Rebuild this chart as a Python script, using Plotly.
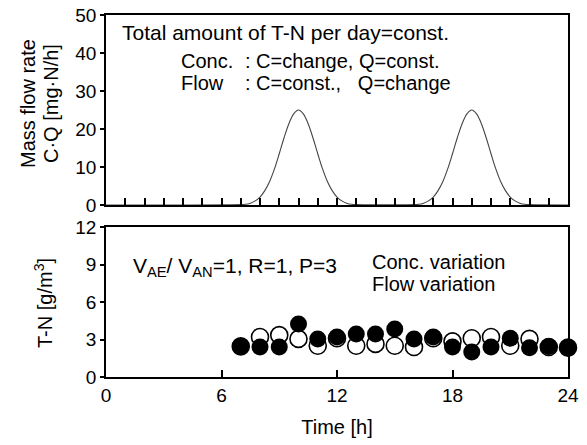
import plotly.graph_objects as go

# --- Top panel: mass flow rate C·Q [mg·N/h]
flow_time = [0, 7.0, 7.25, 7.5, 7.75, 8.0, 8.25, 8.5, 8.75, 9.0, 9.25, 9.5, 9.75, 10.0,
             10.25, 10.5, 10.75, 11.0, 11.25, 11.5, 11.75, 12.0, 12.25, 12.5, 12.75, 13.0,
             16.0, 16.25, 16.5, 16.75, 17.0, 17.25, 17.5, 17.75, 18.0, 18.25, 18.5, 18.75, 19.0,
             19.25, 19.5, 19.75, 20.0, 20.25, 20.5, 20.75, 21.0, 21.25, 21.5, 21.75, 22.0, 24]
flow_rate = [0, 0.1, 0.2, 0.5, 1.1, 2.1, 3.8, 6.2, 9.5, 13.5, 17.7, 21.4, 24.0, 25.0,
             24.0, 21.4, 17.7, 13.5, 9.5, 6.2, 3.8, 2.1, 1.1, 0.5, 0.2, 0.1,
             0.1, 0.2, 0.5, 1.1, 2.1, 3.8, 6.2, 9.5, 13.5, 17.7, 21.4, 24.0, 25.0,
             24.0, 21.4, 17.7, 13.5, 9.5, 6.2, 3.8, 2.1, 1.1, 0.5, 0.2, 0.1, 0]

# --- Bottom panel: T-N [g/m3]
hours = [7, 8, 9, 10, 11, 12, 13, 14, 15, 16, 17, 18, 19, 20, 21, 22, 23, 24]
conc_var = [2.45, 3.2, 3.35, 3.05, 2.5, 3.1, 2.5, 2.65, 2.5, 2.4, 3.1, 2.85, 3.1, 3.2, 2.5, 3.05, 2.4, 2.35]
flow_var = [2.45, 2.4, 2.4, 4.25, 3.05, 3.2, 3.45, 3.45, 3.85, 3.05, 3.2, 2.4, 2.0, 2.4, 3.1, 2.35, 2.45, 2.35]

FONT = "Liberation Sans, Arial, sans-serif"
FS_TICK = 19
FS_TXT = 21
FS_TITLE = 20

fig = go.Figure()

fig.add_trace(go.Scatter(x=flow_time, y=flow_rate, mode="lines", line=dict(color="#444", width=1.1, shape="spline"),
                         xaxis="x2", yaxis="y2", showlegend=False, cliponaxis=False))

fig.add_trace(go.Scatter(x=hours, y=conc_var, mode="markers", name="Conc. variation",
                         marker=dict(symbol="circle", size=17, color="white", line=dict(color="black", width=1.6)),
                         xaxis="x", yaxis="y", showlegend=False, cliponaxis=False))
fig.add_trace(go.Scatter(x=hours, y=flow_var, mode="markers", name="Flow variation",
                         marker=dict(symbol="circle", size=17, color="black", line=dict(color="black", width=0)),
                         xaxis="x", yaxis="y", showlegend=False, cliponaxis=False))

axis_common = dict(showline=True, linecolor="black", linewidth=1.6, mirror=True, showgrid=False, zeroline=False,
                   tickfont=dict(family=FONT, size=FS_TICK, color="black"), tickcolor="black", tickwidth=1.5,
                   automargin=False)

fig.update_layout(
    width=587, height=445,
    margin=dict(l=106, r=19, t=15, b=68),
    paper_bgcolor="white", plot_bgcolor="white",
    font=dict(family=FONT, size=FS_TICK, color="black"),
    xaxis=dict(domain=[0, 1], range=[0, 24], anchor="y", tickvals=[0, 6, 12, 18, 24],
               ticks="inside", ticklen=7, title=dict(text="Time [h]", font=dict(size=FS_TITLE), standoff=15), **axis_common),
    yaxis=dict(domain=[0, 0.414], range=[0, 12], anchor="x", tickvals=[0, 3, 6, 9, 12],
               ticks="outside", ticklen=4, **axis_common),
    xaxis2=dict(domain=[0, 1], range=[0, 24], anchor="y2", tick0=0, dtick=1, showticklabels=False,
                ticks="inside", ticklen=7, **axis_common),
    yaxis2=dict(domain=[0.475, 1], range=[0, 50], anchor="x2", tickvals=[0, 10, 20, 30, 40, 50],
                ticks="outside", ticklen=4, **axis_common),
)

ann = []
def t(text, x, y, xref="x2", yref="y2", size=FS_TXT, **kw):
    d = dict(text=text, x=x, y=y, xref=xref, yref=yref, showarrow=False, xanchor="left", yanchor="middle",
             font=dict(family=FONT, size=size, color="black"))
    d.update(kw)
    ann.append(d)

t("Total amount of T-N per day=const.", 0.75, 45.3)
t("Conc.", 3.8, 37.9, size=20)
t(": C=change, Q=const.", 7.1, 37.9, size=20)
t("Flow", 3.8, 32.0, size=20)
t(": C=const.,   Q=change", 7.1, 32.0, size=20)

t("V<sub>AE</sub>/ V<sub>AN</sub>=1, R=1, P=3", 1.3, 8.8, xref="x", yref="y")
t("Conc. variation", 13.7, 9.2, xref="x", yref="y", size=20)
t("Flow variation", 13.7, 7.45, xref="x", yref="y", size=20)

# y-axis titles
t("Mass flow rate", -78/462, (377 - 104) / 362, xref="paper", yref="paper", textangle=-90, xanchor="center", size=FS_TITLE)
t("C·Q [mg·N/h]", -55/462, (377 - 104) / 362, xref="paper", yref="paper", textangle=-90, xanchor="center", size=FS_TITLE)
t("T-N [g/m<sup>3</sup>]", -63/462, (377 - 303) / 362, xref="paper", yref="paper", textangle=-90, xanchor="center", size=FS_TITLE)

fig.update_layout(annotations=ann)

fig.write_html("out.html")
